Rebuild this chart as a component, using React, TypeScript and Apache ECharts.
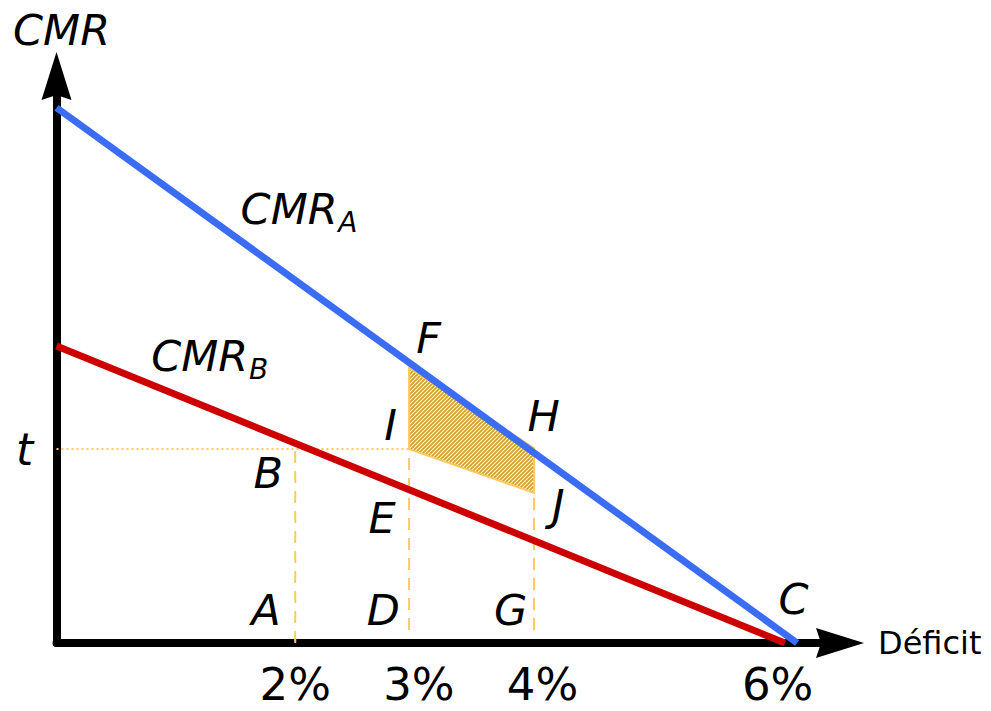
import React, { useEffect, useRef } from 'react';
import * as echarts from 'echarts';

// ---- data (x in % deficit, y in CMR units) ----
const blueX = [0, 6.05];
const blueY = [9.44, 0];
const redX = [0, 5.95];
const redY = [5.24, 0];
const tLevel = 3.42;
const tLineEndX = 2.88;
const guideX = [1.95, 2.88, 3.9]; // A, D, G
const guideTop = [3.42, 3.42, 2.65];
const guideBottom = [0, 0.23, 0.23];
const areaX = [2.88, 3.9, 3.9, 2.88]; // F H J I
const areaY = [4.85, 3.44, 2.65, 3.42];
const pointLabels = ['A', 'B', 'C', 'D', 'E', 'F', 'G', 'H', 'I', 'J'];
const pointLabelX = [1.71, 1.73, 6.02, 2.67, 2.66, 3.04, 3.71, 3.98, 2.73, 4.1];
const pointLabelY = [0.58, 3.0, 0.78, 0.58, 2.2, 5.38, 0.58, 4.0, 3.84, 2.43];
const curveNames = ['CMR', 'CMR'];
const curveSubs = ['A', 'B'];
const curveNameX = [1.9, 1.17];
const curveNameY = [7.65, 5.06];
const curveSubX = [2.38, 1.65];
const curveSubY = [7.42, 4.83];
const tickLabels = ['2%', '3%', '4%', '6%'];
const tickLabelX = [1.95, 2.96, 3.97, 5.89];
const tickLabelY = -0.74;
const levelLabel = 't';
const levelLabelX = -0.26;

const FONT = 'DejaVu Sans';
const ORANGE = '#ffc966';
const ARROW = 'path://M15,0 L30,48 L15,43 L0,48 Z';

const hatchSvg =
  "<svg xmlns='http://www.w3.org/2000/svg' width='4' height='4'>" +
  "<rect width='4' height='4' fill='#ffffff'/>" +
  "<path d='M-1,1 L1,-1 M0,4 L4,0 M3,5 L5,3' stroke='#d6a01a' stroke-width='1.8'/></svg>";

export default function App() {
  const ref = useRef<HTMLDivElement>(null);
  useEffect(() => {
    if (!ref.current) return;
    const chart = echarts.init(ref.current, null, { renderer: 'svg' });
    const hatch = {
      image: 'data:image/svg+xml;utf8,' + encodeURIComponent(hatchSvg),
      repeat: 'repeat',
      imageWidth: 4,
      imageHeight: 4,
    };
    const textLabel = (size: number, italic: boolean) => ({
      show: true,
      position: 'inside',
      formatter: '{b}',
      color: '#000000',
      opacity: 1,
      fontFamily: FONT,
      fontStyle: italic ? 'italic' : 'normal',
      fontSize: size,
      align: 'center',
      verticalAlign: 'middle',
    });
    const textSeries = (names: string[], xs: number[], ys: number[], size: number, italic: boolean) => ({
      type: 'scatter',
      symbolSize: 1,
      itemStyle: { color: 'rgba(0,0,0,0)', opacity: 1 },
      clip: false,
      silent: true,
      z: 5,
      data: names.map((n, i) => ({ name: n, value: [xs[i], ys[i]] })),
      label: textLabel(size, italic),
    });
    const option: any = {
      animation: false,
      grid: { left: 56, right: 151, top: 76, bottom: 68 },
      xAxis: {
        type: 'value',
        min: 0,
        max: 6.4,
        name: 'Déficit',
        nameLocation: 'end',
        nameGap: 38,
        nameTextStyle: {
          fontFamily: FONT,
          fontSize: 32,
          color: '#000',
          align: 'left',
          verticalAlign: 'middle',
          padding: [5, 0, 0, 0],
        },
        axisLine: {
          show: true,
          onZero: false,
          symbol: ['none', ARROW],
          symbolSize: [30, 50],
          lineStyle: { color: '#000', width: 8 },
        },
        axisTick: { show: false },
        axisLabel: { show: false },
        splitLine: { show: false },
      },
      yAxis: {
        type: 'value',
        min: 0,
        max: 10,
        name: 'CMR',
        nameLocation: 'end',
        nameGap: 25,
        nameTextStyle: {
          fontFamily: FONT,
          fontStyle: 'italic',
          fontSize: 43,
          lineHeight: 43,
          color: '#000',
          align: 'center',
          verticalAlign: 'bottom',
          padding: [0, 0, 0, 10],
        },
        axisLine: {
          show: true,
          onZero: false,
          symbol: ['none', ARROW],
          symbolSize: [30, 48],
          lineStyle: { color: '#000', width: 8 },
        },
        axisTick: { show: false },
        axisLabel: { show: false },
        splitLine: { show: false },
      },
      series: [
        {
          type: 'line',
          data: [
            [0, tLevel],
            [tLineEndX, tLevel],
          ],
          symbol: 'none',
          silent: true,
          lineStyle: { color: ORANGE, width: 2, type: [2, 3] },
        },
        ...guideX.map((x, i) => ({
          type: 'line',
          data: [
            [x, guideBottom[i]],
            [x, guideTop[i]],
          ],
          symbol: 'none',
          silent: true,
          lineStyle: { color: ORANGE, width: 2, type: [12, 8] },
        })),
        {
          type: 'custom',
          silent: true,
          data: [[areaX[0], areaY[0]]],
          renderItem: (_p: any, api: any) => ({
            type: 'polygon',
            shape: { points: areaX.map((x, i) => api.coord([x, areaY[i]])) },
            style: { fill: hatch, stroke: ORANGE, lineWidth: 2 },
          }),
        },
        {
          type: 'line',
          data: redX.map((x, i) => [x, redY[i]]),
          symbol: 'none',
          silent: true,
          lineStyle: { color: '#cc0000', width: 7 },
        },
        {
          type: 'line',
          data: blueX.map((x, i) => [x, blueY[i]]),
          symbol: 'none',
          silent: true,
          lineStyle: { color: '#3b6cf4', width: 7 },
        },
        textSeries(pointLabels, pointLabelX, pointLabelY, 43, true),
        textSeries(curveNames, curveNameX, curveNameY, 43, true),
        textSeries(curveSubs, curveSubX, curveSubY, 28, true),
        textSeries([levelLabel], [levelLabelX], [tLevel], 44, true),
        textSeries(tickLabels, tickLabelX, tickLabels.map(() => tickLabelY), 45, false),
      ],
    };
    chart.setOption(option);
    return () => chart.dispose();
  }, []);
  return (
    <div
      ref={ref}
      style={{ position: 'absolute', left: 0, top: 0, width: 991, height: 711, background: '#fff' }}
    />
  );
}
